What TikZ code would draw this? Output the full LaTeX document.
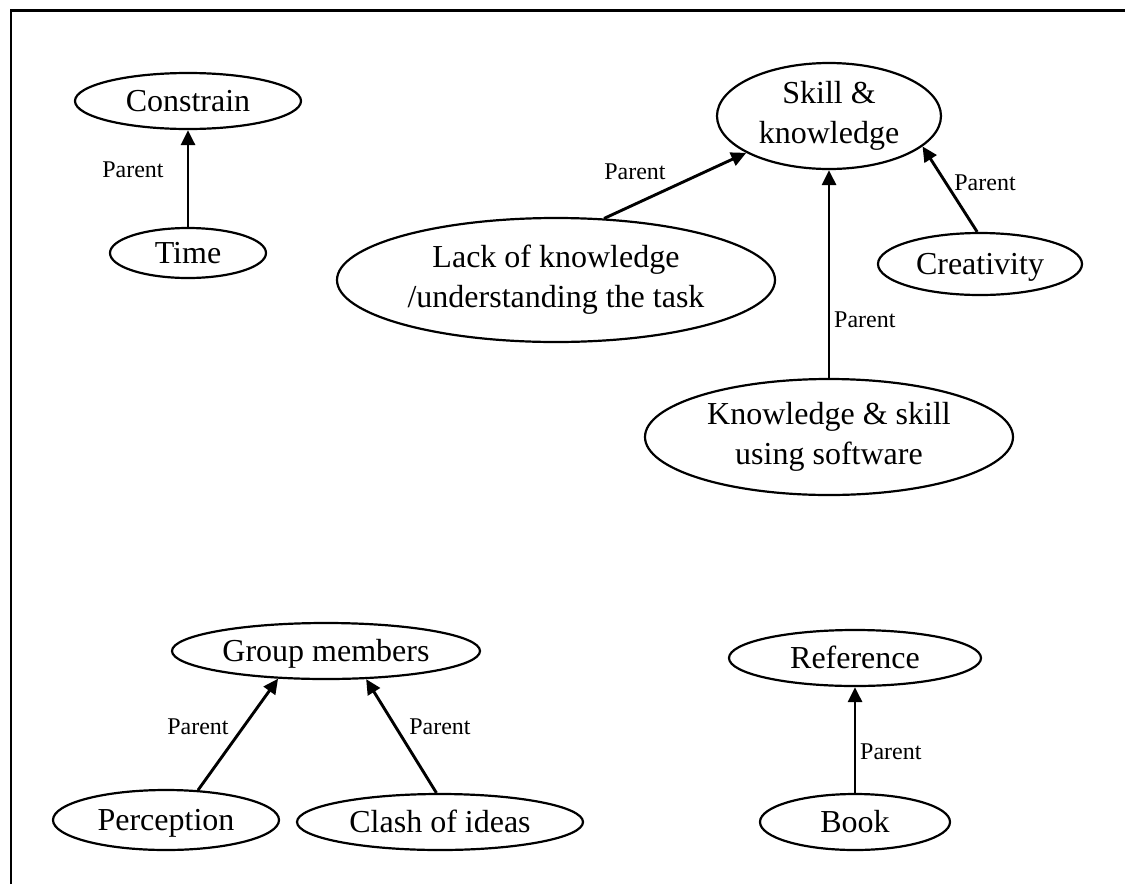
\documentclass[tikz,border=0pt]{standalone}
\usepackage{fontspec}
\setmainfont{Liberation Serif}
\usetikzlibrary{shapes.geometric,arrows.meta}
\begin{document}
\begin{tikzpicture}[x=1pt,y=-1pt,
  oval/.style={ellipse,draw,line width=2.2pt,inner sep=0pt,
    font=\fontsize{32}{40}\selectfont,align=center},
  oneline/.style={text height=23pt,text depth=2pt},
  lbl/.style={font=\fontsize{24}{28}\selectfont,inner sep=0pt},
  arr/.style={line width=2.9pt,-{Triangle[length=15pt,width=14pt]}}]
\useasboundingbox (0,0) rectangle (1125,884);
% frame
\draw[line width=2.2pt] (11,884) -- (11,10.5) -- (1125,10.5);

% time constraint
\node[oval,oneline,minimum width=226pt,minimum height=56pt] (constrain) at (188,101) {Constrain};
\node[oval,oneline,minimum width=156pt,minimum height=50pt] (time) at (188,253) {Time};
\draw[arr] (time.north) -- (constrain.south);
\node[lbl] (l1) at (133,170) {Parent};

% skill & knowledge
\node[oval,minimum width=224pt,minimum height=106pt] (skill) at (829,116) {Skill \&\\knowledge};
\node[oval,minimum width=438pt,minimum height=124pt] (lack) at (556,280) {Lack of knowledge\\/understanding the task};
\node[oval,oneline,minimum width=204pt,minimum height=62pt] (creat) at (980,264) {Creativity};
\node[oval,minimum width=368pt,minimum height=116pt] (soft) at (829,437) {Knowledge \& skill\\using software};
\draw[arr] (lack.52) -- (skill.204);
\draw[arr] (creat.95) -- (skill.342);
\draw[arr] (soft.north) -- (skill.south);
\node[lbl] (l2) at (635,172) {Parent};
\node[lbl] (l3) at (985,183) {Parent};
\node[lbl,anchor=west] (l4) at (834,320) {Parent};

% group members
\node[oval,oneline,minimum width=308pt,minimum height=56pt] (group) at (326,651) {Group members};
\node[oval,oneline,minimum width=226pt,minimum height=60pt] (perc) at (166,820) {Perception};
\node[oval,oneline,minimum width=286pt,minimum height=56pt] (clash) at (440,822) {Clash of ideas};
\draw[arr] (perc.43) -- (group.210);
\draw[arr] (clash.97) -- (group.325);
\node[lbl] (l5) at (198,727) {Parent};
\node[lbl] (l6) at (440,727) {Parent};

% reference
\node[oval,oneline,minimum width=252pt,minimum height=56pt] (ref) at (855,658) {Reference};
\node[oval,oneline,minimum width=190pt,minimum height=56pt] (book) at (855,822) {Book};
\draw[arr] (book.north) -- (ref.south);
\node[lbl,anchor=west] (l7) at (860,752) {Parent};
\end{tikzpicture}
\end{document}
